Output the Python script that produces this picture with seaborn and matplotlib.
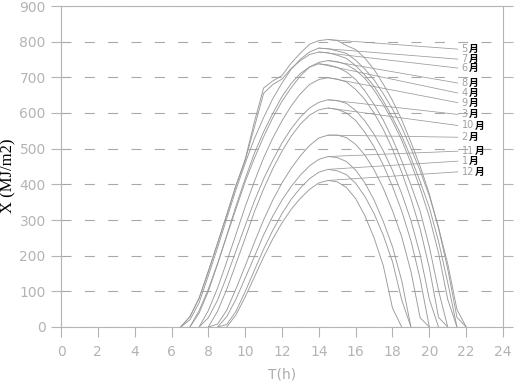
import numpy as np
import pandas as pd
from matplotlib import pyplot as plt
import seaborn as sns

# 时刻 (h)
hours = [6.0, 6.5, 7.0, 7.5, 8.0, 8.5, 9.0, 9.5, 10.0, 10.5, 11.0, 11.5, 12.0, 12.5, 13.0, 13.5,
         14.0, 14.5, 15.0, 15.5, 16.0, 16.5, 17.0, 17.5, 18.0, 18.5, 19.0, 19.5, 20.0, 20.5, 21.0, 21.5, 22.0]

# 各月逐时辐射 X (MJ/m2)
may = [0, 0, 29, 81, 155, 234, 315, 396, 470, 575, 670, 690, 705, 740, 768, 793, 803,
       806, 803, 789, 778, 754, 722, 681, 635, 581, 518, 451, 373, 277, 162, 27, 0]
jul = [0, 0, 20, 68, 144, 222, 304, 385, 459, 528, 587, 640, 684, 723, 751, 771, 782,
       780, 774, 767, 748, 723, 693, 654, 611, 560, 501, 438, 367, 279, 177, 49, 0]
jun = [0, 0, 29, 81, 157, 235, 315, 397, 467, 560, 655, 680, 695, 725, 747, 764, 771,
       769, 762, 753, 733, 706, 675, 634, 587, 536, 475, 408, 335, 240, 124, 0, 0]
aug = [0, 0, 0, 46, 106, 178, 255, 331, 407, 473, 533, 587, 633, 671, 704, 729, 742,
       747, 744, 736, 720, 697, 664, 624, 577, 524, 460, 389, 309, 207, 77, 0, 0]
apr = [0, 0, 0, 39, 100, 176, 257, 339, 416, 487, 547, 599, 646, 683, 711, 729, 738,
       735, 728, 715, 694, 662, 624, 580, 527, 466, 398, 325, 225, 102, 0, 0, 0]
sep = [0, 0, 0, 0, 46, 109, 183, 260, 337, 408, 474, 530, 578, 620, 654, 680, 694,
       699, 695, 687, 666, 638, 600, 554, 499, 434, 360, 275, 166, 27, 0, 0, 0]
mar = [0, 0, 0, 0, 26, 75, 142, 213, 284, 353, 415, 468, 516, 556, 589, 614, 630,
       637, 635, 627, 607, 578, 540, 494, 439, 374, 299, 203, 78, 0, 0, 0, 0]
oct_ = [0, 0, 0, 0, 0, 44, 106, 177, 249, 323, 387, 444, 493, 535, 569, 594, 609,
        614, 610, 600, 579, 546, 505, 454, 394, 325, 242, 135, 0, 0, 0, 0, 0]
feb = [0, 0, 0, 0, 0, 8, 47, 107, 171, 237, 300, 356, 404, 445, 480, 509, 530,
       538, 538, 531, 512, 482, 441, 389, 326, 253, 156, 26, 0, 0, 0, 0, 0]
nov = [0, 0, 0, 0, 0, 0, 29, 78, 137, 197, 258, 311, 356, 394, 426, 452, 470,
       478, 475, 464, 440, 404, 356, 296, 225, 130, 0, 0, 0, 0, 0, 0, 0]
jan = [0, 0, 0, 0, 0, 0, 7, 44, 99, 159, 218, 271, 318, 358, 390, 416, 434,
       442, 438, 427, 403, 366, 318, 257, 183, 76, 0, 0, 0, 0, 0, 0, 0]
dec = [0, 0, 0, 0, 0, 0, 0, 34, 84, 140, 196, 247, 292, 330, 361, 386, 404,
       411, 407, 391, 360, 312, 250, 172, 53, 0, 0, 0, 0, 0, 0, 0, 0]

month_names = ['5', '7', '6', '8', '4', '9', '3', '10', '2', '11', '1', '12']
month_series = [may, jul, jun, aug, apr, sep, mar, oct_, feb, nov, jan, dec]
label_x = [779, 751, 726, 684, 656, 629, 596, 565, 532, 493, 465, 435]  # 标注线终点高度

LINE = '#9a9a9a'
AXC = '#b4b4b4'


def trim(vals):
    # 夜间的 0 值不画 (只保留与白天相邻的 0)
    out = []
    for i, v in enumerate(vals):
        near = vals[max(i - 1, 0):i + 2]
        out.append(v if max(near) > 0 else np.nan)
    return out


def draw():
    sns.set_style('ticks')
    plt.rcParams['font.family'] = ['DejaVu Sans', 'Noto Sans CJK SC']
    plt.rcParams['axes.unicode_minus'] = False

    df = pd.DataFrame({
        'T': hours * len(month_names),
        'X': sum([trim(v) for v in month_series], []),
        'month': np.repeat(month_names, len(hours)),
    })

    fig = plt.figure(figsize=(5.19, 3.85), dpi=100)
    ax = fig.add_axes([61 / 519, 58 / 385, 442 / 519, 321 / 385])

    sns.lineplot(data=df, x='T', y='X', hue='month', palette={m: LINE for m in month_names},
                 linewidth=0.65, legend=False, ax=ax, zorder=3)

    # 标注线 + 月份
    for name, vals, ly in zip(month_names, month_series, label_x):
        i = int(np.argmax(vals))
        ax.plot([hours[i], 21.55], [vals[i], ly], color=LINE, lw=0.55, zorder=3)
        t = ax.text(21.75, ly, name, ha='left', va='center', fontsize=7, color='#a0a0a0')
        ax.annotate('月', xy=(1, 0.5), xycoords=t, xytext=(0.5, 0), textcoords='offset points',
                    ha='left', va='center', fontsize=7, color='black', fontweight='bold',
                    family=['Noto Sans CJK SC'])

    ax.set_xlim(0, 24)
    ax.set_ylim(0, 900)
    ax.set_xticks(range(0, 25, 2))
    ax.set_yticks(range(0, 901, 100))
    ax.yaxis.grid(True, linestyle=(0, (9, 12)), color='#a8a8a8', lw=0.8)
    ax.set_axisbelow(True)
    ax.tick_params(axis='both', direction='out', length=7, width=0.8, color=AXC,
                   labelcolor='#b4b4b4', labelsize=10, pad=4)
    ax.tick_params(axis='x', pad=6)
    ax.tick_params(axis='y', right=True)
    for s in ax.spines.values():
        s.set_color(AXC)
        s.set_linewidth(0.8)

    ax.set_xlabel('T(h)', fontsize=10, color='#acacac', labelpad=6)
    ax.set_ylabel('X (MJ/m2)', fontsize=12, color='black', family=['Liberation Serif'])
    ax.yaxis.set_label_coords(-45 / 442, 151 / 321)

    fig.savefig('out.png', dpi=100)


if __name__ == '__main__':
    draw()
